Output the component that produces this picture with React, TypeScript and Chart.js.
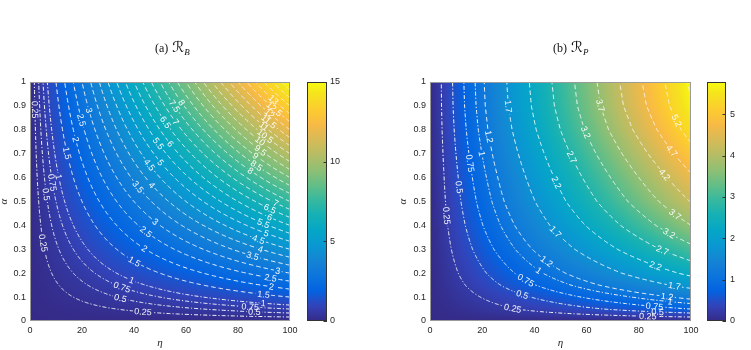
import React, { useEffect, useRef } from 'react';
import { Chart, registerables } from 'chart.js';

Chart.register(...registerables);

// ---------------- data ----------------
const ETA = [0, 10, 20, 30, 40, 50, 60, 70, 80, 90, 100];
const ALPHA = [0, 0.05, 0.1, 0.15, 0.2, 0.3, 0.4, 0.5, 0.6, 0.7, 0.8, 0.9, 1];

// R_B values, one row per ALPHA value, one column per ETA value
const RB_GRID = [
  [0, 0, 0, 0, 0, 0, 0, 0, 0, 0, 0],
  [0, 0.075, 0.15, 0.225, 0.3, 0.375, 0.45, 0.525, 0.6, 0.675, 0.75],
  [0, 0.15, 0.3, 0.45, 0.6, 0.75, 0.9, 1.05, 1.2, 1.35, 1.5],
  [0, 0.225, 0.45, 0.675, 0.9, 1.125, 1.35, 1.575, 1.8, 2.025, 2.25],
  [0, 0.3, 0.6, 0.9, 1.2, 1.5, 1.8, 2.1, 2.4, 2.7, 3],
  [0, 0.45, 0.9, 1.35, 1.8, 2.25, 2.7, 3.15, 3.6, 4.05, 4.5],
  [0, 0.6, 1.2, 1.8, 2.4, 3, 3.6, 4.2, 4.8, 5.4, 6],
  [0, 0.75, 1.5, 2.25, 3, 3.75, 4.5, 5.25, 6, 6.75, 7.5],
  [0, 0.9, 1.8, 2.7, 3.6, 4.5, 5.4, 6.3, 7.2, 8.1, 9],
  [0, 1.05, 2.1, 3.15, 4.2, 5.25, 6.3, 7.35, 8.4, 9.45, 10.5],
  [0, 1.2, 2.4, 3.6, 4.8, 6, 7.2, 8.4, 9.6, 10.8, 12],
  [0, 1.35, 2.7, 4.05, 5.4, 6.75, 8.1, 9.45, 10.8, 12.15, 13.5],
  [0, 1.5, 3, 4.5, 6, 7.5, 9, 10.5, 12, 13.5, 15],
];

// R_P values, one row per ALPHA value, one column per ETA value
const RP_GRID = [
  [0, 0, 0, 0, 0, 0, 0, 0, 0, 0, 0],
  [0, 0.075, 0.15, 0.225, 0.301, 0.376, 0.451, 0.526, 0.601, 0.676, 0.751],
  [0, 0.129, 0.259, 0.388, 0.518, 0.647, 0.777, 0.906, 1.036, 1.165, 1.295],
  [0, 0.185, 0.37, 0.555, 0.74, 0.925, 1.11, 1.295, 1.48, 1.665, 1.85],
  [0, 0.231, 0.462, 0.694, 0.925, 1.156, 1.387, 1.618, 1.85, 2.081, 2.312],
  [0, 0.306, 0.613, 0.919, 1.225, 1.532, 1.838, 2.144, 2.451, 2.757, 3.063],
  [0, 0.37, 0.74, 1.11, 1.48, 1.85, 2.219, 2.589, 2.959, 3.329, 3.699],
  [0, 0.422, 0.844, 1.266, 1.688, 2.11, 2.532, 2.954, 3.376, 3.798, 4.219],
  [0, 0.462, 0.925, 1.387, 1.85, 2.312, 2.774, 3.237, 3.699, 4.162, 4.624],
  [0, 0.503, 1.006, 1.509, 2.011, 2.514, 3.017, 3.52, 4.023, 4.526, 5.029],
  [0, 0.54, 1.081, 1.621, 2.162, 2.702, 3.243, 3.783, 4.324, 4.864, 5.404],
  [0, 0.566, 1.133, 1.699, 2.266, 2.832, 3.399, 3.965, 4.532, 5.098, 5.664],
  [0, 0.578, 1.156, 1.734, 2.312, 2.89, 3.468, 4.046, 4.624, 5.202, 5.78],
];

const RB_DASHDOT_LEVELS = [0.25, 0.5, 0.75, 1];
const RB_DASHED_LEVELS = [1.5, 2, 2.5, 3, 3.5, 4, 4.5, 5, 5.5, 6, 6.5, 7, 7.5, 8, 8.5, 9, 9.5, 10, 10.5, 11, 11.5, 12, 12.5, 13, 13.5, 14, 14.5];
const RP_DASHDOT_LEVELS = [0.25, 0.5, 0.75, 1];
const RP_DASHED_LEVELS = [1.2, 1.7, 2.2, 2.7, 3.2, 3.7, 4.2, 4.7, 5.2, 5.7];

// contour label anchors: [level, eta, alpha]
const RB_LABELS: number[][] = [
  [0.25, 1.3, 0.88], [0.5, 6.4, 0.53], [0.75, 8.3, 0.58], [1, 10.9, 0.6], [1.5, 14.1, 0.7],
  [2, 16.9, 0.76], [2.5, 19.2, 0.84], [3, 22, 0.88],
  [3.5, 41, 0.555], [4, 48, 0.58], [4.5, 44.9, 0.645], [5, 51.3, 0.674], [5.5, 48.5, 0.736],
  [6, 55, 0.75], [6.5, 52.6, 0.834], [7, 57, 0.84], [7.5, 55.1, 0.897], [8, 57.7, 0.91],
  [8, 85.9, 0.646], [8.5, 87.7, 0.66], [9, 87.3, 0.7], [9.5, 89, 0.72], [10, 89, 0.76],
  [10.5, 91, 0.78], [11, 90.4, 0.82], [11.5, 92.3, 0.84], [12, 92.3, 0.87], [12.5, 94.2, 0.89], [13, 94, 0.93],
  [7, 94.9, 0.5], [6.5, 92.3, 0.47], [6, 92.3, 0.436], [5.5, 89.7, 0.409], [5, 91, 0.367],
  [4.5, 87.8, 0.339], [4, 88.5, 0.297], [3.5, 85.6, 0.272], [3, 95.5, 0.209], [2.5, 92.3, 0.174],
  [2, 93, 0.141], [1.5, 89.7, 0.112], [1, 89.7, 0.071], [0.75, 84.6, 0.06], [0.5, 85.9, 0.039],
  [0.25, 5.1, 0.325], [0.25, 43.6, 0.039], [0.5, 34.6, 0.095], [0.75, 35.3, 0.141], [1, 39.1, 0.169],
  [1.5, 39.7, 0.241], [2, 43.6, 0.297], [2.5, 44.2, 0.367], [3, 47.7, 0.409],
];

const RP_LABELS: number[][] = [
  [0.25, 5.8, 0.44], [0.5, 11.2, 0.562], [0.75, 15.4, 0.66], [1, 19.5, 0.7], [1.2, 23.1, 0.771], [1.7, 30.1, 0.897],
  [2.2, 48, 0.576], [2.7, 54.5, 0.687], [3.2, 60.3, 0.792], [3.7, 66, 0.904],
  [4.2, 89.7, 0.611], [4.7, 93, 0.715], [5.2, 94.9, 0.841],
  [3.7, 94.2, 0.45], [3.2, 91.7, 0.37], [2.7, 89.1, 0.297], [2.2, 86.5, 0.234], [1.7, 93.6, 0.146],
  [1.2, 91, 0.102], [1, 91.7, 0.081], [0.75, 85.9, 0.063], [0.5, 87.2, 0.046], [0.25, 83.3, 0.021],
  [1.7, 48.3, 0.377], [0.25, 32, 0.06], [0.5, 35.3, 0.109], [0.75, 36.5, 0.164], [1, 41.7, 0.213], [1.2, 45.5, 0.262],
];

const ETA_TICKS = [0, 20, 40, 60, 80, 100];
const ALPHA_TICKS = [0, 0.1, 0.2, 0.3, 0.4, 0.5, 0.6, 0.7, 0.8, 0.9, 1];
const RB_CB_TICKS = [0, 5, 10, 15];
const RP_CB_TICKS = [0, 1, 2, 3, 4, 5];

// parula colormap (entries of the 64-step table)
const PARULA_IDX = [0, 4, 8, 12, 16, 20, 24, 28, 32, 36, 40, 44, 48, 52, 56, 60, 63];
const PARULA = [
  [0.2081, 0.1663, 0.5292], [0.1959, 0.2645, 0.7279], [0.0117, 0.3875, 0.882], [0.0498, 0.4586, 0.8641],
  [0.0793, 0.52, 0.8312], [0.0343, 0.5966, 0.8199], [0.0228, 0.6535, 0.7768], [0.0843, 0.6928, 0.7062],
  [0.2178, 0.725, 0.6193], [0.3953, 0.7459, 0.5244], [0.5709, 0.7485, 0.4494], [0.7184, 0.7411, 0.3905],
  [0.8507, 0.7299, 0.336], [0.9739, 0.7314, 0.2666], [0.988, 0.8066, 0.1794], [0.9589, 0.8949, 0.1132],
  [0.9763, 0.9831, 0.0538],
];

// ---------------- helpers ----------------
const SANS = '"Liberation Sans", Arial, Helvetica, sans-serif';
const SERIF = '"Liberation Serif", "Times New Roman", serif';
const TICK_COLOR = '#262626';
const LABEL_FONT = '9px ' + SANS;

function parula(t: number): number[] {
  const p = Math.min(1, Math.max(0, t)) * 63;
  let k = 0;
  while (k < PARULA_IDX.length - 2 && p > PARULA_IDX[k + 1]) k++;
  const f = (p - PARULA_IDX[k]) / (PARULA_IDX[k + 1] - PARULA_IDX[k]);
  const a = PARULA[k], b = PARULA[k + 1];
  return [0, 1, 2].map((c) => Math.round(255 * (a[c] + (b[c] - a[c]) * f)));
}

function locate(arr: number[], v: number): [number, number] {
  let i = 0;
  while (i < arr.length - 2 && v > arr[i + 1]) i++;
  const t = (v - arr[i]) / (arr[i + 1] - arr[i]);
  return [i, Math.min(1, Math.max(0, t))];
}

// bilinear shading of the grid (like MATLAB "shading interp")
function sample(grid: number[][], eta: number, alpha: number): number {
  const [i, tx] = locate(ETA, eta);
  const [j, ty] = locate(ALPHA, alpha);
  const a = grid[j][i], b = grid[j][i + 1], c = grid[j + 1][i], d = grid[j + 1][i + 1];
  return (a * (1 - tx) + b * tx) * (1 - ty) + (c * (1 - tx) + d * tx) * ty;
}

// contour of the shaded grid, traced along rays from the origin
function traceLevel(grid: number[][], L: number) {
  const f = (u: number, v: number) => sample(grid, u * 100, v);
  if (f(1, 1) <= L) return [];
  const bis = (g: (s: number) => number, lo: number, hi: number) => {
    for (let k = 0; k < 48; k++) {
      const m = (lo + hi) / 2;
      if (g(m) < L) lo = m; else hi = m;
    }
    return (lo + hi) / 2;
  };
  const vR = f(1, 0) >= L ? 1e-6 : bis((v) => f(1, v), 0, 1);
  const uT = bis((u) => f(u, 1), 0, 1);
  const th0 = Math.atan2(vR, 1), th1 = Math.atan2(1, uT);
  const thetas: number[] = [];
  const N = 300;
  for (let k = 0; k <= N; k++) thetas.push(th0 + ((th1 - th0) * k) / N);
  const l0 = Math.log(Math.tan(th0)), l1 = Math.log(Math.tan(th1));
  for (let k = 0; k <= N; k++) thetas.push(Math.atan(Math.exp(l0 + ((l1 - l0) * k) / N)));
  thetas.sort((a, b) => a - b);
  const pts: { x: number; y: number }[] = [];
  for (const th of thetas) {
    const c = Math.cos(th), s = Math.sin(th);
    const tmax = Math.min(c > 1e-9 ? 1 / c : Infinity, s > 1e-9 ? 1 / s : Infinity);
    if (f(c * tmax, s * tmax) < L - 1e-9) continue;
    const t = bis((q) => f(c * q, s * q), 0, tmax);
    pts.push({ x: Math.min(100, c * t * 100), y: Math.min(1, s * t) });
  }
  return pts;
}

type PanelCfg = {
  grid: number[][];
  dashdot: number[];
  dashed: number[];
  labels: number[][];
  cbTicks: number[];
  canvasW: number;
  padLeft: number;
  yWidth: number;
  padRight: number;
  cbWidth: number;
  cbGap: number;
  cbBarW: number;
  cbTickPad: number;
  yTitlePad: number;
  titleX: number;
  titlePrefix: string;
  titleSub: string;
};

function makePlugin(cfg: PanelCfg, vmin: number, vmax: number) {
  let labels: any[] = [];
  const levels = [...cfg.dashdot, ...cfg.dashed];
  return {
    id: 'contourPanel',
    beforeDatasetsDraw(chart: any) {
      const { ctx, chartArea: ca, scales } = chart;
      const xs = scales.x, ys = scales.y;
      // shaded field
      const w = Math.round(ca.right - ca.left), h = Math.round(ca.bottom - ca.top);
      const off = document.createElement('canvas');
      off.width = w; off.height = h;
      const octx = off.getContext('2d')!;
      const img = octx.createImageData(w, h);
      for (let py = 0; py < h; py++) {
        const al = Math.min(1, Math.max(0, ys.getValueForPixel(ca.top + py + 0.5)));
        for (let px = 0; px < w; px++) {
          const eta = Math.min(100, Math.max(0, xs.getValueForPixel(ca.left + px + 0.5)));
          const v = sample(cfg.grid, eta, al);
          const col = parula((v - vmin) / (vmax - vmin));
          const o = (py * w + px) * 4;
          img.data[o] = col[0]; img.data[o + 1] = col[1]; img.data[o + 2] = col[2]; img.data[o + 3] = 255;
        }
      }
      octx.putImageData(img, 0, 0);
      ctx.drawImage(off, ca.left, ca.top);

      // label placement along the contour lines
      ctx.save();
      ctx.font = LABEL_FONT;
      labels = [];
      for (const [lvl, eta, al] of cfg.labels) {
        const di = levels.indexOf(lvl);
        if (di < 0) continue;
        const data = chart.data.datasets[di].data;
        if (!data.length) continue;
        const pts = data.map((p: any) => [xs.getPixelForValue(p.x), ys.getPixelForValue(p.y)]);
        const tx = xs.getPixelForValue(eta), ty = ys.getPixelForValue(al);
        let best = 0, bd = Infinity;
        pts.forEach((p: number[], i: number) => {
          const d = (p[0] - tx) ** 2 + (p[1] - ty) ** 2;
          if (d < bd) { bd = d; best = i; }
        });
        const dist = (a: number[], b: number[]) => Math.hypot(a[0] - b[0], a[1] - b[1]);
        let i0 = best, i1 = best;
        while (i0 > 0 && dist(pts[i0], pts[best]) < 6) i0--;
        while (i1 < pts.length - 1 && dist(pts[i1], pts[best]) < 6) i1++;
        let a = Math.atan2(pts[i1][1] - pts[i0][1], pts[i1][0] - pts[i0][0]);
        if (a > Math.PI / 2) a -= Math.PI;
        if (a <= -Math.PI / 2) a += Math.PI;
        const text = String(lvl);
        labels.push({ x: pts[best][0], y: pts[best][1], a, text, w: ctx.measureText(text).width + 3, h: 8 });
      }
      ctx.restore();

      // clip the lines away where labels sit
      ctx.save();
      ctx.beginPath();
      ctx.rect(ca.left, ca.top, ca.right - ca.left, ca.bottom - ca.top);
      for (const lb of labels) {
        const c = Math.cos(lb.a), s = Math.sin(lb.a);
        const hw = lb.w / 2, hh = lb.h / 2;
        const corners = [[-hw, -hh], [hw, -hh], [hw, hh], [-hw, hh]].map(([dx, dy]) => [lb.x + dx * c - dy * s, lb.y + dx * s + dy * c]);
        ctx.moveTo(corners[0][0], corners[0][1]);
        for (let k = 1; k < 4; k++) ctx.lineTo(corners[k][0], corners[k][1]);
        ctx.closePath();
      }
      ctx.clip('evenodd');
    },
    afterDatasetsDraw(chart: any) {
      const { ctx, chartArea: ca } = chart;
      ctx.restore();
      ctx.save();
      ctx.beginPath();
      ctx.rect(ca.left, ca.top, ca.right - ca.left, ca.bottom - ca.top);
      ctx.clip();
      ctx.font = LABEL_FONT;
      ctx.fillStyle = 'rgba(255,255,255,0.95)';
      ctx.textAlign = 'center';
      ctx.textBaseline = 'middle';
      for (const lb of labels) {
        ctx.save();
        ctx.translate(lb.x, lb.y);
        ctx.rotate(lb.a);
        ctx.fillText(lb.text, 0, 0.5);
        ctx.restore();
      }
      ctx.restore();
    },
    afterDraw(chart: any) {
      const { ctx, chartArea: ca } = chart;
      const cb = chart.scales.cb;
      ctx.save();
      // plot box
      ctx.strokeStyle = '#9a9a9a';
      ctx.lineWidth = 1;
      ctx.strokeRect(ca.left + 0.5, ca.top + 0.5, ca.right - ca.left - 1, ca.bottom - ca.top - 1);
      // colour bar
      const x0 = ca.right + cfg.cbGap, x1 = x0 + cfg.cbBarW;
      for (let py = Math.floor(ca.top); py < Math.ceil(ca.bottom); py++) {
        const v = cb.getValueForPixel(py + 0.5);
        const col = parula((v - vmin) / (vmax - vmin));
        ctx.fillStyle = `rgb(${col[0]},${col[1]},${col[2]})`;
        ctx.fillRect(x0, py, x1 - x0, 1);
      }
      ctx.strokeStyle = '#333';
      ctx.strokeRect(x0 + 0.5, ca.top + 0.5, x1 - x0 - 1, ca.bottom - ca.top - 1);
      ctx.beginPath();
      for (const v of cfg.cbTicks) {
        const y = Math.round(cb.getPixelForValue(v)) + 0.5;
        ctx.moveTo(x1 - 3.5, y);
        ctx.lineTo(x1, y);
      }
      ctx.stroke();
      // title "(a) R_B"
      ctx.fillStyle = '#111';
      ctx.textAlign = 'left';
      ctx.textBaseline = 'alphabetic';
      ctx.font = '12px ' + SERIF;
      ctx.fillText(cfg.titlePrefix, cfg.titleX, 52);
      let x = cfg.titleX + ctx.measureText(cfg.titlePrefix).width + 1;
      ctx.font = '15px "DejaVu Sans", ' + SERIF;
      ctx.fillText('ℛ', x, 52);
      x += ctx.measureText('ℛ').width;
      ctx.font = 'italic 9px ' + SERIF;
      ctx.fillText(cfg.titleSub, x, 55);
      ctx.restore();
    },
  };
}

function buildConfig(cfg: PanelCfg): any {
  const levels = [...cfg.dashdot, ...cfg.dashed];
  const flat = cfg.grid.flat();
  const vmin = Math.min(...flat), vmax = Math.max(...flat);
  const datasets = levels.map((L, i) => ({
    label: String(L),
    data: traceLevel(cfg.grid, L),
    showLine: true,
    borderColor: 'rgba(255,255,255,0.95)',
    borderWidth: 1,
    borderDash: i < cfg.dashdot.length ? [4, 2, 1.2, 2] : [4.5, 3],
    pointRadius: 0,
    pointHoverRadius: 0,
    tension: 0,
    fill: false,
    xAxisID: 'x',
    yAxisID: 'y',
  }));
  const tickFont = { family: SANS, size: 9 };
  const titleFont = { family: SERIF, size: 11, style: 'italic' };
  return {
    type: 'scatter',
    data: { datasets },
    options: {
      responsive: false,
      animation: false,
      devicePixelRatio: 1,
      events: [],
      layout: { padding: { top: 82, left: cfg.padLeft, right: cfg.padRight, bottom: 0 } },
      plugins: { legend: { display: false }, tooltip: { enabled: false }, title: { display: false } },
      scales: {
        x: {
          type: 'linear', position: 'bottom', min: 0, max: 100,
          afterBuildTicks: (s: any) => { s.ticks = ETA_TICKS.map((v) => ({ value: v })); },
          ticks: { font: tickFont, color: TICK_COLOR, padding: 4, maxRotation: 0, autoSkip: false, callback: (v: any) => String(v) },
          grid: { display: false, drawTicks: false },
          border: { display: false },
          title: { display: true, text: 'η', font: titleFont, color: TICK_COLOR, padding: { top: 0, bottom: 0 } },
          afterFit: (s: any) => { s.height = 29; s.paddingLeft = 0; s.paddingRight = 0; },
        },
        y: {
          type: 'linear', position: 'left', min: 0, max: 1,
          afterBuildTicks: (s: any) => { s.ticks = ALPHA_TICKS.map((v) => ({ value: v })); },
          ticks: { font: tickFont, color: TICK_COLOR, padding: 4, autoSkip: false, callback: (v: any) => String(v) },
          grid: { display: false, drawTicks: false },
          border: { display: false },
          title: { display: true, text: 'α', font: titleFont, color: TICK_COLOR, padding: { top: cfg.yTitlePad, bottom: 0 } },
          afterFit: (s: any) => { s.width = cfg.yWidth; s.paddingTop = 0; s.paddingBottom = 0; },
        },
        cb: {
          type: 'linear', position: 'right', min: vmin, max: vmax,
          afterBuildTicks: (s: any) => { s.ticks = cfg.cbTicks.map((v) => ({ value: v })); },
          ticks: { font: tickFont, color: TICK_COLOR, padding: cfg.cbTickPad, autoSkip: false, callback: (v: any) => String(v) },
          grid: { display: false, drawTicks: false },
          border: { display: false },
          afterFit: (s: any) => { s.width = cfg.cbWidth; s.paddingTop = 0; s.paddingBottom = 0; },
        },
      },
    },
    plugins: [makePlugin(cfg, vmin, vmax)],
  };
}

const PANEL_A: PanelCfg = {
  grid: RB_GRID, dashdot: RB_DASHDOT_LEVELS, dashed: RB_DASHED_LEVELS, labels: RB_LABELS, cbTicks: RB_CB_TICKS,
  canvasW: 375, padLeft: 0, yWidth: 30, padRight: 25, cbWidth: 60, cbGap: 17, cbBarW: 20, cbTickPad: 40,
  yTitlePad: -2, titleX: 155, titlePrefix: '(a) ', titleSub: 'B',
};

const PANEL_B: PanelCfg = {
  grid: RP_GRID, dashdot: RP_DASHDOT_LEVELS, dashed: RP_DASHED_LEVELS, labels: RP_LABELS, cbTicks: RP_CB_TICKS,
  canvasW: 376, padLeft: 22, yWidth: 33, padRight: 15, cbWidth: 45, cbGap: 16, cbBarW: 19, cbTickPad: 39,
  yTitlePad: 0, titleX: 178, titlePrefix: '(b) ', titleSub: 'P',
};

function Panel({ cfg, left }: { cfg: PanelCfg; left: number }) {
  const ref = useRef<HTMLCanvasElement>(null);
  useEffect(() => {
    if (!ref.current) return;
    const chart = new Chart(ref.current, buildConfig(cfg));
    return () => chart.destroy();
  }, [cfg]);
  return (
    <div style={{ position: 'absolute', left, top: 0, width: cfg.canvasW, height: 350 }}>
      <canvas ref={ref} width={cfg.canvasW} height={350} style={{ display: 'block', width: cfg.canvasW, height: 350 }} />
    </div>
  );
}

export default function App() {
  return (
    <div style={{ position: 'fixed', left: 0, top: 0, width: 751, height: 350, background: '#fff', overflow: 'hidden' }}>
      <Panel cfg={PANEL_A} left={0} />
      <Panel cfg={PANEL_B} left={375} />
    </div>
  );
}
